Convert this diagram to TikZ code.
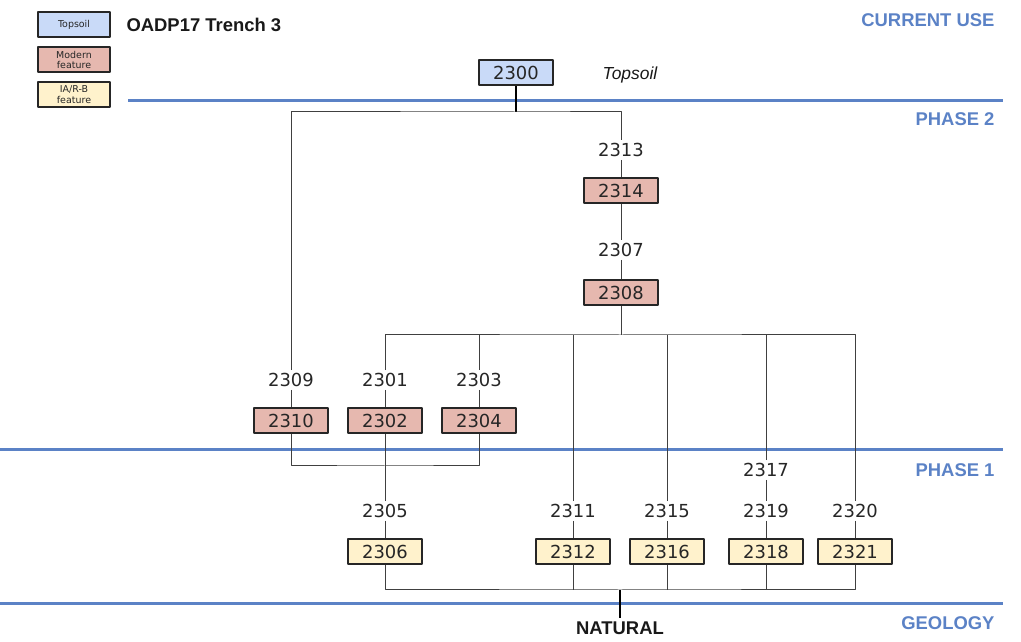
\documentclass[tikz,border=0pt]{standalone}
\usepackage{fontspec}
\setmainfont{Liberation Sans}
\newfontfamily\boxfont{DejaVu Sans}
\definecolor{phaseblue}{HTML}{5B82C6}
\definecolor{topsoilfill}{HTML}{C9DAF8}
\definecolor{modernfill}{HTML}{E6B8AF}
\definecolor{iarbfill}{HTML}{FFF2CC}
\definecolor{boxedge}{HTML}{262626}
\begin{document}
\begin{tikzpicture}[line join=bevel,
  ctx/.style={draw=boxedge,line width=2bp,minimum width=74bp,minimum height=25bp,inner sep=0pt,font=\boxfont\fontsize{18}{20}\selectfont,text=boxedge},
  topsoil/.style={ctx,fill=topsoilfill},
  modern/.style={ctx,fill=modernfill},
  iarb/.style={ctx,fill=iarbfill},
  cut/.style={inner sep=3bp,font=\boxfont\fontsize{18}{20}\selectfont,text=boxedge},
  key/.style={draw=boxedge,line width=2bp,minimum width=72bp,minimum height=25bp,inner sep=0pt,align=center,font=\boxfont\fontsize{9.5}{11}\selectfont,text=boxedge},
  link/.style={draw=black!75,line width=1bp},
  stub/.style={draw=black,line width=2bp},
  phase/.style={draw=phaseblue,line width=3bp},
  phaselabel/.style={anchor=east,text=phaseblue,font=\fontsize{18.5}{20}\selectfont\bfseries},
]
\useasboundingbox (0bp,0bp) rectangle (1021bp,642bp);
%% phase lines
\draw [phase] (128bp,541bp) -- (1003bp,541bp);
\draw [phase] (0bp,192bp) -- (1003bp,192bp);
\draw [phase] (0bp,38bp) -- (1003bp,38bp);
\node (lab_current) at (998bp,622bp) [phaselabel] {CURRENT USE};
\node (lab_phase2) at (998bp,523bp) [phaselabel] {PHASE 2};
\node (lab_phase1) at (998bp,172bp) [phaselabel] {PHASE 1};
\node (lab_geology) at (998bp,19bp) [phaselabel] {GEOLOGY};
%% key
\node (key_topsoil) at (74bp,617.5bp) [key,fill=topsoilfill] {Topsoil};
\node (key_modern) at (74bp,582bp) [key,fill=modernfill] {Modern\\feature};
\node (key_iarb) at (74bp,547.5bp) [key,fill=iarbfill] {IA/R-B\\feature};
\node (title) at (123bp,617bp) [anchor=west,font=\fontsize{18.5}{20}\selectfont\bfseries,text=black!90] {OADP17 Trench 3};
%% contexts
\node (node_2300) at (516bp,569bp) [topsoil] {2300};
  \node (topsoil_note) at (630bp,567bp) [font=\fontsize{17.5}{20}\selectfont\itshape,text=black!90] {Topsoil};
\node (node_2313) at (621bp,492bp) [cut] {2313};
  \node (node_2314) at (621bp,451bp) [modern] {2314};
\node (node_2307) at (621bp,392bp) [cut] {2307};
  \node (node_2308) at (621bp,349bp) [modern] {2308};
\node (node_2309) at (291bp,262bp) [cut] {2309};
  \node (node_2310) at (291bp,221bp) [modern] {2310};
\node (node_2301) at (385bp,262bp) [cut] {2301};
  \node (node_2302) at (385bp,221bp) [modern] {2302};
\node (node_2303) at (479bp,262bp) [cut] {2303};
  \node (node_2304) at (479bp,221bp) [modern] {2304};
\node (node_2317) at (766bp,172bp) [cut] {2317};
\node (node_2305) at (385bp,131bp) [cut] {2305};
  \node (node_2306) at (385bp,90bp) [iarb] {2306};
\node (node_2311) at (573bp,131bp) [cut] {2311};
  \node (node_2312) at (573bp,90bp) [iarb] {2312};
\node (node_2315) at (667bp,131bp) [cut] {2315};
  \node (node_2316) at (667bp,90bp) [iarb] {2316};
\node (node_2319) at (766bp,131bp) [cut] {2319};
  \node (node_2318) at (766bp,90bp) [iarb] {2318};
\node (node_2320) at (855bp,131bp) [cut] {2320};
  \node (node_2321) at (855bp,90bp) [iarb] {2321};
\node (natural) at (620bp,14bp) [font=\fontsize{18.5}{20}\selectfont\bfseries,text=black!90] {NATURAL};
%% junctions
\coordinate (j_top) at (516bp,530bp);
\coordinate (j_mid) at (621bp,307bp);
\coordinate (j_low) at (385bp,176bp);
\coordinate (j_bot) at (620bp,52bp);
%% links
\draw [stub] (node_2300) -- (j_top);
\draw [link] (node_2309.north) |- (j_top) -| (node_2313.north);
\draw [link] (node_2313) -- (node_2314);
\draw [link] (node_2314) -- (node_2307);
\draw [link] (node_2307) -- (node_2308);
\draw [link] (node_2308) -- (j_mid);
\draw [link] (node_2301.north) |- (j_mid) -| (node_2320.north);
\foreach \c in {2303,2311,2315,2317}
  \draw [link] (node_\c.north) -- (node_\c.north |- j_mid);
\draw [link] (node_2309) -- (node_2310);
\draw [link] (node_2301) -- (node_2302);
\draw [link] (node_2303) -- (node_2304);
\draw [link] (node_2310.south) |- (j_low) -| (node_2304.south);
\draw [link] (node_2302) -- (node_2305);
\draw [link] (node_2317) -- (node_2319);
\foreach \a/\b in {2305/2306,2311/2312,2315/2316,2319/2318,2320/2321}
  \draw [link] (node_\a) -- (node_\b);
\draw [link] (node_2306.south) |- (j_bot) -| (node_2321.south);
\foreach \c in {2312,2316,2318}
  \draw [link] (node_\c.south) -- (node_\c.south |- j_bot);
\draw [stub] (j_bot) -- (natural);
%
\end{tikzpicture}
\end{document}
